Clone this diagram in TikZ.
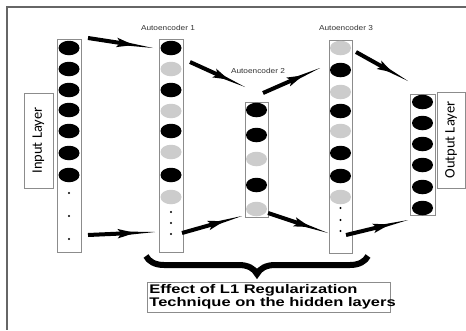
\documentclass[tikz,border=0pt]{standalone}
\usepackage{fontspec}
\usetikzlibrary{calc,shapes.geometric,decorations.pathreplacing}
\newfontfamily\aefont[FakeStretch=1.15]{Liberation Sans}
\newfontfamily\boxfont[FakeStretch=1.32]{Liberation Sans}
\newfontfamily\layerfont{Carlito}
\definecolor{framec}{gray}{0.4}
\definecolor{lightc}{gray}{0.8}
\definecolor{colborder}{gray}{0.55}
\newcommand{\fatarrow}[2]{%
  \fill ($(#1)!2pt!90:(#2)$) -- ($(#1)!0.55!(#2)!2pt!90:(#2)$) -- ($(#1)!0.55!(#2)!2pt!-90:(#2)$) -- ($(#1)!2pt!-90:(#2)$) -- cycle;
  \fill ($(#1)!0.44!(#2)!4.8pt!90:(#2)$) -- ($(#1)!0.7!(#2)$) -- ($(#1)!0.44!(#2)!4.8pt!-90:(#2)$) -- ($(#1)!0.5!(#2)$) -- cycle;
  \fill ($(#1)!0.55!(#2)!1.8pt!90:(#2)$) -- (#2) -- ($(#1)!0.55!(#2)!1.8pt!-90:(#2)$) -- cycle;
}
\begin{document}
\begin{tikzpicture}[x=1pt,y=-1pt,
  col/.style={draw=colborder, line width=0.6pt, fill=white, inner sep=0pt},
  unit/.style={ellipse, minimum width=21pt, minimum height=14.5pt, inner sep=0pt},
  sdot/.style={circle, fill=black, minimum size=2.2pt, inner sep=0pt},
  lbox/.style={draw=colborder, line width=0.6pt, fill=white, inner sep=0pt},
  aelabel/.style={font=\aefont\fontsize{7.2}{8}\selectfont, text=black!80},
  layerlabel/.style={font=\layerfont\fontsize{14.5}{15}\selectfont, rotate=90}]
\useasboundingbox (0,0) rectangle (466,330);
\fill[white] (0,0) rectangle (466,330);
% frame (top and left edges)
\draw[framec, line width=2pt] (6,7) -- (466,7);
\draw[framec, line width=2pt] (7,6) -- (7,330);

% columns
\node[col, minimum width=24pt, minimum height=213pt] (c1) at (69,145.5) {};
\node[col, minimum width=24pt, minimum height=213pt] (c2) at (171,145.5) {};
\node[col, minimum width=23pt, minimum height=115pt] (c3) at (256.5,159.5) {};
\node[col, minimum width=23pt, minimum height=213pt] (c4) at (340.5,146.5) {};
\node[col, minimum width=25pt, minimum height=121pt] (c5) at (422.5,154.5) {};

% units
\foreach \y/\c [count=\i] in {48/black,69/black,90/black,110/black,131/black,153/black,175/black}
  \node[unit, fill=\c] (c1n\i) at (69,\y) {};
\foreach \y [count=\i] in {193,216,239}
  \node[sdot] (c1d\i) at (69,\y) {};
\foreach \y/\c [count=\i] in {48/black,69/lightc,90/black,111/lightc,131/black,152/lightc,175/black,197/lightc}
  \node[unit, fill=\c] (c2n\i) at (171,\y) {};
\foreach \y [count=\i] in {212,223,234}
  \node[sdot] (c2d\i) at (171,\y) {};
\foreach \y/\c [count=\i] in {110/black,135/black,159/lightc,185/black,209/lightc}
  \node[unit, fill=\c] (c3n\i) at (256.5,\y) {};
\foreach \y/\c [count=\i] in {48/lightc,70/black,92/lightc,111/black,131/lightc,153/black,176/black,197/lightc}
  \node[unit, fill=\c] (c4n\i) at (340.5,\y) {};
\foreach \y [count=\i] in {208,220,231}
  \node[sdot] (c4d\i) at (340.5,\y) {};
\foreach \y [count=\i] in {102,123,144,165,187,208}
  \node[unit, fill=black] (c5n\i) at (422.5,\y) {};

% side boxes
\node[lbox, minimum width=29pt, minimum height=95pt] (inbox) at (38.5,140.5) {};
\node[layerlabel] (intext) at (inbox.center) {Input Layer};
\node[lbox, minimum width=28pt, minimum height=96pt] (outbox) at (451,140) {};
\node[layerlabel] (outtext) at (outbox.center) {Output Layer};

% labels
\node[aelabel] (l1) at (168,28) {Autoencoder 1};
\node[aelabel] (l2) at (258,71) {Autoencoder 2};
\node[aelabel] (l3) at (346,28) {Autoencoder 3};

% arrow end points
\coordinate (a1s) at (88,38);   \coordinate (a1e) at (153,48);
\coordinate (a2s) at (190,62);  \coordinate (a2e) at (245,87);
\coordinate (a3s) at (263,93);  \coordinate (a3e) at (320,68);
\coordinate (a4s) at (356,52);  \coordinate (a4e) at (408,81);
\coordinate (a5s) at (88,235);  \coordinate (a5e) at (155,232);
\coordinate (a6s) at (182,233); \coordinate (a6e) at (242,216);
\coordinate (a7s) at (268,213); \coordinate (a7e) at (328,233);
\coordinate (a8s) at (346,235); \coordinate (a8e) at (408,220);
\fatarrow{a1s}{a1e}
\fatarrow{a2s}{a2e}
\fatarrow{a3s}{a3e}
\fatarrow{a4s}{a4e}
\fatarrow{a5s}{a5e}
\fatarrow{a6s}{a6e}
\fatarrow{a7s}{a7e}
\fatarrow{a8s}{a8e}

% brace
\coordinate (bl) at (146,256);
\coordinate (br) at (368,256);
\draw[line width=6pt, decorate, decoration={brace, mirror, amplitude=18pt}] (bl) -- (br);

% text box
\node[lbox, minimum width=243pt, minimum height=30pt] (tbox) at (268.5,297) {};
\node[anchor=west, inner sep=0pt, align=left, font=\boxfont\bfseries\fontsize{12.5}{11.5}\selectfont] (ttext) at ([xshift=2.5pt]tbox.west) {Effect of L1 Regularization\\Technique on the hidden layers};
\end{tikzpicture}
\end{document}
